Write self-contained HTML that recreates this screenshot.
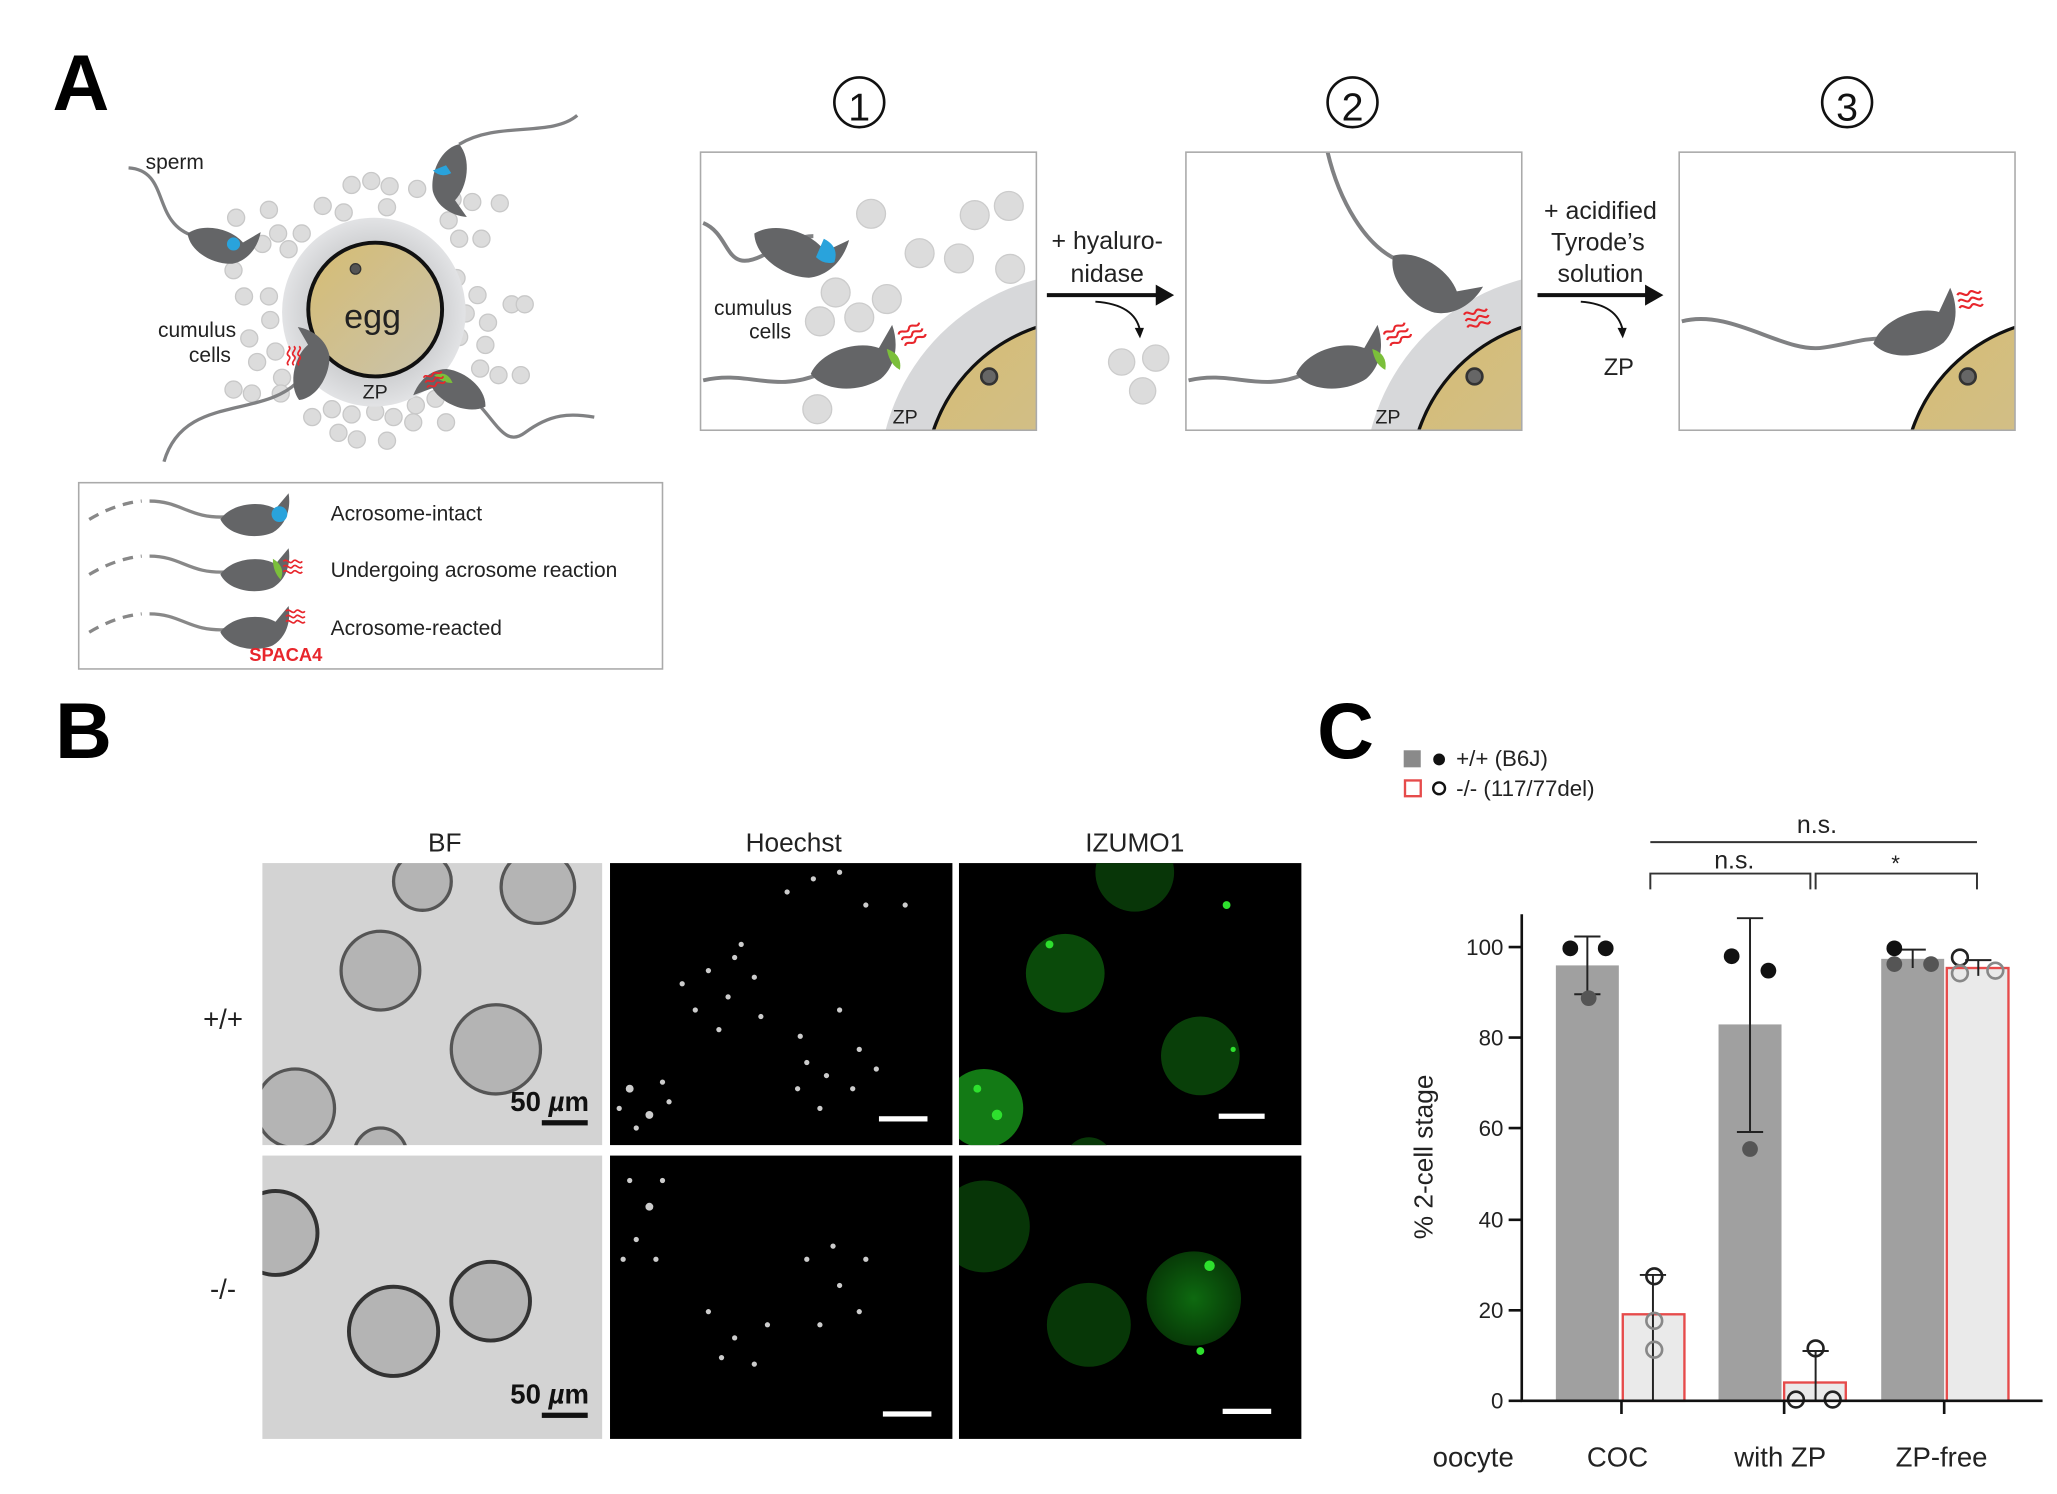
<!DOCTYPE html>
<html><head><meta charset="utf-8"><style>
html,body{margin:0;padding:0;background:#fff}
svg{display:block}
text{font-family:"Liberation Sans",sans-serif}
</style></head><body>
<svg width="2057" height="1494" viewBox="0 0 1568 1139" preserveAspectRatio="none" xmlns="http://www.w3.org/2000/svg">
<defs>
<linearGradient id="eg" x1="0" y1="0" x2="1" y2="1"><stop offset="0" stop-color="#d6bc72"/><stop offset="1" stop-color="#c9c3ad"/></linearGradient>
<radialGradient id="zp" cx="0.5" cy="0.5" r="0.5"><stop offset="0.6" stop-color="#c8c9cb"/><stop offset="1" stop-color="#e2e3e5"/></radialGradient>
<radialGradient id="gc" cx="0.5" cy="0.5" r="0.5"><stop offset="0" stop-color="#0e6a10"/><stop offset="1" stop-color="#073a07"/></radialGradient>
<path id="head" d="M0,0 C8,-12 30,-15 42,-8 L52,-20 C54,-8 50,4 40,10 C26,16 6,12 0,0 Z" fill="#646567"/>
<path id="wave" d="M0,0 c3,-4 6,4 9,0 c3,-4 6,4 9,0 M0,5 c3,-4 6,4 9,0 c3,-4 6,4 9,0 M0,10 c3,-4 6,4 9,0 c3,-4 6,4 9,0" fill="none" stroke="#e8262c" stroke-width="1.6"/>
<clipPath id="g1"><rect x="731" y="658" width="261" height="215"/></clipPath>
<clipPath id="g2"><rect x="731" y="881" width="261" height="216"/></clipPath>
</defs>

<!-- Panel A -->
<text x="40" y="84" font-size="60" font-weight="bold">A</text>
<g fill="#dcdcdc" stroke="#c8c8c8">
<circle cx="268" cy="141" r="6.5"/><circle cx="283" cy="138" r="6.5"/><circle cx="297" cy="142" r="6.5"/><circle cx="318" cy="144" r="6.5"/><circle cx="246" cy="157" r="6.5"/><circle cx="262" cy="162" r="6.5"/><circle cx="295" cy="158" r="6.5"/>
<circle cx="345" cy="152" r="6.5"/><circle cx="360" cy="154" r="6.5"/><circle cx="381" cy="155" r="6.5"/><circle cx="342" cy="168" r="6.5"/><circle cx="350" cy="182" r="6.5"/><circle cx="367" cy="182" r="6.5"/>
<circle cx="205" cy="160" r="6.5"/><circle cx="180" cy="166" r="6.5"/><circle cx="212" cy="178" r="6.5"/><circle cx="200" cy="186" r="6.5"/><circle cx="220" cy="190" r="6.5"/><circle cx="230" cy="178" r="6.5"/>
<circle cx="178" cy="206" r="6.5"/><circle cx="186" cy="226" r="6.5"/><circle cx="205" cy="226" r="6.5"/><circle cx="190" cy="258" r="6.5"/><circle cx="206" cy="244" r="6.5"/><circle cx="196" cy="276" r="6.5"/><circle cx="210" cy="268" r="6.5"/><circle cx="215" cy="288" r="6.5"/>
<circle cx="178" cy="297" r="6.5"/><circle cx="192" cy="300" r="6.5"/><circle cx="214" cy="300" r="6.5"/>
<circle cx="348" cy="212" r="6.5"/><circle cx="364" cy="225" r="6.5"/><circle cx="390" cy="232" r="6.5"/><circle cx="355" cy="239" r="6.5"/><circle cx="372" cy="246" r="6.5"/><circle cx="350" cy="257" r="6.5"/><circle cx="370" cy="263" r="6.5"/><circle cx="366" cy="281" r="6.5"/><circle cx="380" cy="286" r="6.5"/><circle cx="397" cy="286" r="6.5"/><circle cx="400" cy="232" r="6.5"/>
<circle cx="238" cy="318" r="6.5"/><circle cx="253" cy="312" r="6.5"/><circle cx="268" cy="316" r="6.5"/><circle cx="286" cy="314" r="6.5"/><circle cx="300" cy="318" r="6.5"/><circle cx="317" cy="309" r="6.5"/><circle cx="332" cy="304" r="6.5"/><circle cx="340" cy="322" r="6.5"/><circle cx="258" cy="330" r="6.5"/><circle cx="272" cy="335" r="6.5"/><circle cx="295" cy="336" r="6.5"/><circle cx="315" cy="322" r="6.5"/>
</g>
<ellipse cx="285" cy="238" rx="70" ry="72" fill="url(#zp)"/>
<circle cx="286" cy="236" r="51" fill="url(#eg)" stroke="#111" stroke-width="3"/>
<circle cx="271" cy="205" r="4" fill="#555" stroke="#333"/>
<text x="284" y="250" font-size="26" text-anchor="middle" fill="#222">egg</text>
<text x="286" y="304" font-size="15" text-anchor="middle" fill="#222">ZP</text>
<text x="111" y="129" font-size="16" fill="#222">sperm</text>
<text x="180" y="257" font-size="16" text-anchor="end" fill="#222">cumulus</text>
<text x="176" y="276" font-size="16" text-anchor="end" fill="#222">cells</text>
<g fill="none" stroke="#808183" stroke-width="2.5">
<path d="M98,128 C130,130 115,170 148,180"/>
<path d="M440,88 C420,105 380,92 350,110"/>
<path d="M125,352 C140,300 200,320 228,290"/>
<path d="M340,290 C375,305 380,345 400,330 C420,315 435,315 453,318"/>
</g>
<g transform="translate(143,178) rotate(20)"><use href="#head"/></g>
<circle cx="178" cy="186" r="5" fill="#29a3dc"/>
<g transform="translate(350,110) rotate(105)"><use href="#head"/></g>
<path d="M330,130 q6,6 14,2 l-4,-6z" fill="#29a3dc"/>
<g transform="translate(228,305) rotate(-70)"><use href="#head"/></g>
<g transform="translate(228,264) rotate(90) scale(0.8)"><use href="#wave"/></g>
<g transform="translate(370,310) rotate(210)"><use href="#head"/></g>
<path d="M331,286 q10,-4 14,6 q-8,0 -14,-6z" fill="#7bbf3a"/>
<g transform="translate(323,288) rotate(-20) scale(0.8)"><use href="#wave"/></g>

<!-- legend -->
<rect x="60" y="368" width="445" height="142" fill="#fff" stroke="#aaa" stroke-width="1.2"/>
<g fill="none" stroke="#888" stroke-width="2.5">
<path d="M68,396 q20,-12 40,-14" stroke-dasharray="8,6"/><path d="M114,382 c25,0 30,14 60,12"/>
<path d="M68,438 q20,-12 40,-14" stroke-dasharray="8,6"/><path d="M114,424 c25,0 30,14 60,12"/>
<path d="M68,482 q20,-12 40,-14" stroke-dasharray="8,6"/><path d="M114,468 c25,0 30,14 60,12"/>
</g>
<use href="#head" transform="translate(168,396)"/><circle cx="213" cy="392" r="6" fill="#29a3dc"/>
<use href="#head" transform="translate(168,438)"/><path d="M208,426 q10,6 6,16 q-6,-6 -6,-16z" fill="#7bbf3a"/><use href="#wave" transform="translate(216,428) scale(0.8)"/>
<use href="#head" transform="translate(168,482)"/><use href="#wave" transform="translate(218,466) scale(0.8)"/>
<text x="252" y="397" font-size="16" fill="#222">Acrosome-intact</text>
<text x="252" y="440" font-size="16" fill="#222">Undergoing acrosome reaction</text>
<text x="252" y="484" font-size="16" fill="#222">Acrosome-reacted</text>
<text x="190" y="504" font-size="14" font-weight="bold" fill="#e8262c">SPACA4</text>

<!-- numbered boxes -->
<g text-anchor="middle" fill="#111">
<circle cx="655" cy="78" r="19" fill="none" stroke="#111" stroke-width="2"/><text x="655" y="92" font-size="30">1</text>
<circle cx="1031" cy="78" r="19" fill="none" stroke="#111" stroke-width="2"/><text x="1031" y="92" font-size="30">2</text>
<circle cx="1408" cy="78" r="19" fill="none" stroke="#111" stroke-width="2"/><text x="1408" y="92" font-size="30">3</text>
</g>
<clipPath id="b1"><rect x="534" y="116" width="256" height="212"/></clipPath>
<clipPath id="b2"><rect x="904" y="116" width="256" height="212"/></clipPath>
<clipPath id="b3"><rect x="1280" y="116" width="256" height="212"/></clipPath>
<g clip-path="url(#b1)">
<circle cx="830" cy="368" r="160" fill="#d7d8da"/>
<circle cx="830" cy="368" r="125" fill="url(#eg)" stroke="#111" stroke-width="2.5"/>
<circle cx="754" cy="287" r="6" fill="#666" stroke="#333" stroke-width="2"/>
<g fill="#dcdcdc" stroke="#ccc"><circle cx="664" cy="163" r="11"/><circle cx="743" cy="164" r="11"/><circle cx="769" cy="157" r="11"/><circle cx="701" cy="193" r="11"/><circle cx="731" cy="197" r="11"/><circle cx="770" cy="205" r="11"/><circle cx="637" cy="223" r="11"/><circle cx="676" cy="228" r="11"/><circle cx="625" cy="245" r="11"/><circle cx="655" cy="242" r="11"/><circle cx="623" cy="312" r="11"/></g>
<path d="M536,170 C560,180 550,215 590,190 C600,185 610,180 620,180" fill="none" stroke="#808183" stroke-width="3"/>
<g transform="translate(575,178) rotate(25) scale(1.3)"><use href="#head"/></g>
<path d="M628,182 q12,6 8,18 q-8,2 -14,-4z" fill="#29a3dc"/>
<path d="M536,290 C570,282 590,300 625,285" fill="none" stroke="#808183" stroke-width="3"/>
<g transform="translate(618,285) rotate(-10) scale(1.3)"><use href="#head"/></g>
<path d="M676,266 q12,4 10,16 q-8,-4 -10,-16z" fill="#7bbf3a"/><use href="#wave" transform="translate(685,255) rotate(-30)"/>
<text x="690" y="323" font-size="15" text-anchor="middle" fill="#222">ZP</text>
</g>
<rect x="534" y="116" width="256" height="212" fill="none" stroke="#aaa" stroke-width="1.2"/>
<text x="574" y="240" font-size="16" text-anchor="middle" fill="#222">cumulus</text>
<text x="587" y="258" font-size="16" text-anchor="middle" fill="#222">cells</text>

<g clip-path="url(#b2)">
<circle cx="1200" cy="368" r="160" fill="#d7d8da"/>
<circle cx="1200" cy="368" r="125" fill="url(#eg)" stroke="#111" stroke-width="2.5"/>
<circle cx="1124" cy="287" r="6" fill="#666" stroke="#333" stroke-width="2"/>
<path d="M1012,116 C1020,150 1040,190 1070,200 C1085,205 1090,210 1100,215" fill="none" stroke="#808183" stroke-width="3"/>
<g transform="translate(1062,195) rotate(40) scale(1.3)"><use href="#head"/></g>
<use href="#wave" transform="translate(1116,240) rotate(-15)"/>
<path d="M906,290 C940,282 960,300 995,285" fill="none" stroke="#808183" stroke-width="3"/>
<g transform="translate(988,285) rotate(-10) scale(1.3)"><use href="#head"/></g>
<path d="M1046,266 q12,4 10,16 q-8,-4 -10,-16z" fill="#7bbf3a"/><use href="#wave" transform="translate(1055,255) rotate(-30)"/>
<text x="1058" y="323" font-size="15" text-anchor="middle" fill="#222">ZP</text>
</g>
<rect x="904" y="116" width="256" height="212" fill="none" stroke="#aaa" stroke-width="1.2"/>

<g clip-path="url(#b3)">
<circle cx="1576" cy="368" r="125" fill="url(#eg)" stroke="#111" stroke-width="2.5"/>
<circle cx="1500" cy="287" r="6" fill="#666" stroke="#333" stroke-width="2"/>
<path d="M1282,245 C1320,235 1360,270 1390,265 C1410,262 1420,258 1435,258" fill="none" stroke="#808183" stroke-width="3"/>
<g transform="translate(1428,262) rotate(-15) scale(1.3)"><use href="#head"/></g>
<use href="#wave" transform="translate(1492,225) rotate(-10)"/>
</g>
<rect x="1280" y="116" width="256" height="212" fill="none" stroke="#aaa" stroke-width="1.2"/>

<text x="844" y="190" font-size="19" text-anchor="middle" fill="#222">+ hyaluro-</text>
<text x="844" y="215" font-size="19" text-anchor="middle" fill="#222">nidase</text>
<path d="M798,225 H885" stroke="#111" stroke-width="3"/><path d="M895,225 l-14,-8 v16z" fill="#111"/>
<path d="M835,230 q30,2 34,22" fill="none" stroke="#111" stroke-width="1.5"/><path d="M869,258 l-4,-8 h7z" fill="#111"/>
<g fill="#dcdcdc" stroke="#ccc"><circle cx="855" cy="276" r="10"/><circle cx="881" cy="273" r="10"/><circle cx="871" cy="298" r="10"/></g>
<text x="1220" y="167" font-size="19" text-anchor="middle" fill="#222">+ acidified</text>
<text x="1218" y="191" font-size="19" text-anchor="middle" fill="#222">Tyrode’s</text>
<text x="1220" y="215" font-size="19" text-anchor="middle" fill="#222">solution</text>
<path d="M1172,225 H1258" stroke="#111" stroke-width="3"/><path d="M1268,225 l-14,-8 v16z" fill="#111"/>
<path d="M1205,230 q28,2 32,22" fill="none" stroke="#111" stroke-width="1.5"/><path d="M1237,258 l-4,-8 h7z" fill="#111"/>
<text x="1234" y="286" font-size="18" text-anchor="middle" fill="#222">ZP</text>

<!-- Panel B -->
<text x="42" y="578" font-size="60" font-weight="bold">B</text>
<text x="339" y="649" font-size="20" text-anchor="middle" fill="#222">BF</text>
<text x="605" y="649" font-size="20" text-anchor="middle" fill="#222">Hoechst</text>
<text x="865" y="649" font-size="20" text-anchor="middle" fill="#222">IZUMO1</text>
<text x="170" y="784" font-size="21" text-anchor="middle" fill="#222">+/+</text>
<text x="170" y="990" font-size="21" text-anchor="middle" fill="#222">-/-</text>
<clipPath id="c1"><rect x="200" y="658" width="259" height="215"/></clipPath>
<clipPath id="c2"><rect x="200" y="881" width="259" height="216"/></clipPath>
<rect x="200" y="658" width="259" height="215" fill="#d3d3d3"/>
<g clip-path="url(#c1)" fill="#b4b4b4" stroke="#555" stroke-width="2.5">
<circle cx="290" cy="740" r="30"/><circle cx="378" cy="800" r="34"/><circle cx="410" cy="676" r="28"/><circle cx="322" cy="672" r="22"/><circle cx="225" cy="845" r="30"/><circle cx="290" cy="880" r="20"/>
</g>
<rect x="200" y="881" width="259" height="216" fill="#d3d3d3"/>
<g clip-path="url(#c2)" fill="#b4b4b4" stroke="#333" stroke-width="3">
<circle cx="300" cy="1015" r="34"/><circle cx="374" cy="992" r="30"/><circle cx="210" cy="940" r="32"/>
</g>
<text x="389" y="847" font-size="21" font-weight="bold" fill="#111">50 <tspan font-style="italic">µ</tspan>m</text>
<rect x="413" y="854" width="35" height="4" fill="#111"/>
<text x="389" y="1070" font-size="21" font-weight="bold" fill="#111">50 <tspan font-style="italic">µ</tspan>m</text>
<rect x="413" y="1077" width="35" height="4" fill="#111"/>
<rect x="465" y="658" width="261" height="215" fill="#000"/>
<rect x="465" y="881" width="261" height="216" fill="#000"/>
<rect x="731" y="658" width="261" height="215" fill="#000"/>
<rect x="731" y="881" width="261" height="216" fill="#000"/>
<g fill="#ccc">
<circle cx="540" cy="740" r="2"/><circle cx="555" cy="760" r="2"/><circle cx="530" cy="770" r="2"/><circle cx="575" cy="745" r="2"/><circle cx="560" cy="730" r="2"/><circle cx="580" cy="775" r="2"/><circle cx="520" cy="750" r="2"/><circle cx="548" cy="785" r="2"/><circle cx="565" cy="720" r="2"/>
<circle cx="610" cy="790" r="2"/><circle cx="640" cy="770" r="2"/><circle cx="655" cy="800" r="2"/><circle cx="630" cy="820" r="2"/><circle cx="615" cy="810" r="2"/><circle cx="650" cy="830" r="2"/><circle cx="608" cy="830" r="2"/><circle cx="668" cy="815" r="2"/><circle cx="625" cy="845" r="2"/>
<circle cx="480" cy="830" r="3"/><circle cx="495" cy="850" r="3"/><circle cx="505" cy="825" r="2"/><circle cx="485" cy="860" r="2"/><circle cx="472" cy="845" r="2"/><circle cx="510" cy="840" r="2"/>
<circle cx="600" cy="680" r="2"/><circle cx="620" cy="670" r="2"/><circle cx="660" cy="690" r="2"/><circle cx="640" cy="665" r="2"/><circle cx="690" cy="690" r="2"/>
<circle cx="480" cy="900" r="2"/><circle cx="495" cy="920" r="3"/><circle cx="485" cy="945" r="2"/><circle cx="500" cy="960" r="2"/><circle cx="475" cy="960" r="2"/><circle cx="505" cy="900" r="2"/>
<circle cx="540" cy="1000" r="2"/><circle cx="560" cy="1020" r="2"/><circle cx="575" cy="1040" r="2"/><circle cx="550" cy="1035" r="2"/><circle cx="585" cy="1010" r="2"/>
<circle cx="615" cy="960" r="2"/><circle cx="640" cy="980" r="2"/><circle cx="655" cy="1000" r="2"/><circle cx="625" cy="1010" r="2"/><circle cx="660" cy="960" r="2"/><circle cx="635" cy="950" r="2"/>
</g>
<rect x="670" y="851" width="37" height="4" fill="#fff"/>
<rect x="673" y="1076" width="37" height="4" fill="#fff"/>
<g clip-path="url(#g1)">
<circle cx="812" cy="742" r="30" fill="#0a4a0a"/><circle cx="915" cy="805" r="30" fill="#093f09"/><circle cx="750" cy="845" r="30" fill="#137a15"/><circle cx="865" cy="665" r="30" fill="#083608"/><circle cx="830" cy="885" r="18" fill="#083808"/>
<g fill="#2ee02e"><circle cx="800" cy="720" r="3"/><circle cx="760" cy="850" r="4"/><circle cx="745" cy="830" r="3"/><circle cx="935" cy="690" r="3"/><circle cx="940" cy="800" r="2"/></g>
</g>
<g clip-path="url(#g2)">
<circle cx="750" cy="935" r="35" fill="#073507"/><circle cx="830" cy="1010" r="32" fill="#073707"/><circle cx="910" cy="990" r="36" fill="url(#gc)"/>
<g fill="#2ee02e"><circle cx="922" cy="965" r="4"/><circle cx="915" cy="1030" r="3"/></g>
</g>
<rect x="929" y="849" width="35" height="4" fill="#fff"/>
<rect x="932" y="1074" width="37" height="4" fill="#fff"/>

<!-- Panel C -->
<text x="1004" y="578" font-size="60" font-weight="bold">C</text>
<rect x="1070" y="572" width="13" height="13" fill="#8a8a8a"/><circle cx="1097" cy="579" r="4.5" fill="#111"/>
<text x="1110" y="584" font-size="17" fill="#222">+/+ (B6J)</text>
<rect x="1071" y="595" width="12" height="12" fill="none" stroke="#e64b4b" stroke-width="1.8"/><circle cx="1097" cy="601" r="4.5" fill="none" stroke="#111" stroke-width="1.8"/>
<text x="1110" y="607" font-size="17" fill="#222">-/- (117/77del)</text>
<text x="1385" y="635" font-size="19" text-anchor="middle" fill="#222">n.s.</text>
<path d="M1258,642 H1507" stroke="#333" stroke-width="1.5"/>
<text x="1322" y="662" font-size="19" text-anchor="middle" fill="#222">n.s.</text>
<text x="1445" y="664" font-size="17" text-anchor="middle" fill="#222">*</text>
<path d="M1258,678 V666 H1380 V678 M1384,678 V666 H1507 V678" fill="none" stroke="#333" stroke-width="1.5"/>
<rect x="1186" y="736" width="48" height="332" fill="#a0a0a0"/>
<rect x="1237" y="1002" width="47" height="66" fill="#eaeaea" stroke="#e64b4b" stroke-width="1.8"/>
<rect x="1310" y="781" width="48" height="287" fill="#a0a0a0"/>
<rect x="1360" y="1054" width="47" height="14" fill="#eaeaea" stroke="#e64b4b" stroke-width="1.8"/>
<rect x="1434" y="731" width="48" height="337" fill="#a0a0a0"/>
<rect x="1484" y="738" width="47" height="330" fill="#eaeaea" stroke="#e64b4b" stroke-width="1.8"/>
<g stroke="#222" stroke-width="1.5" fill="none">
<path d="M1210,714 V758 M1200,714 H1220 M1200,758 H1220"/>
<path d="M1260,972 V1068 M1250,972 H1270"/>
<path d="M1334,700 V863 M1324,700 H1344 M1324,863 H1344"/>
<path d="M1384,1030 V1068 M1374,1030 H1394"/>
<path d="M1458,724 V738 M1448,724 H1468"/>
<path d="M1508,732 V744 M1498,732 H1518"/>
</g>
<g fill="#111"><circle cx="1197" cy="723" r="6"/><circle cx="1224" cy="723" r="6"/><circle cx="1211" cy="761" r="6" fill="#555"/>
<circle cx="1320" cy="729" r="6"/><circle cx="1348" cy="740" r="6"/><circle cx="1334" cy="876" r="6" fill="#555"/>
<circle cx="1444" cy="723" r="6"/><circle cx="1444" cy="735" r="6" fill="#555"/><circle cx="1472" cy="735" r="6" fill="#555"/></g>
<g fill="none" stroke-width="2"><circle cx="1261" cy="973" r="6" stroke="#222"/><circle cx="1261" cy="1007" r="6" stroke="#888"/><circle cx="1261" cy="1029" r="6" stroke="#888"/>
<circle cx="1384" cy="1028" r="6" stroke="#222"/><circle cx="1369" cy="1067" r="6" stroke="#222"/><circle cx="1397" cy="1067" r="6" stroke="#222"/>
<circle cx="1494" cy="730" r="6" stroke="#222"/><circle cx="1494" cy="742" r="6" stroke="#888"/><circle cx="1521" cy="740" r="6" stroke="#888"/></g>
<path d="M1160,697 V1068 H1557" fill="none" stroke="#111" stroke-width="2"/>
<g stroke="#111" stroke-width="2"><path d="M1150,722 H1160 M1150,791 H1160 M1150,860 H1160 M1150,930 H1160 M1150,999 H1160 M1150,1068 H1160 M1236,1068 V1078 M1360,1068 V1078 M1482,1068 V1078"/></g>
<g font-size="17" text-anchor="end" fill="#222"><text x="1146" y="728">100</text><text x="1146" y="797">80</text><text x="1146" y="866">60</text><text x="1146" y="936">40</text><text x="1146" y="1005">20</text><text x="1146" y="1074">0</text></g>
<text transform="translate(1092,882) rotate(-90)" font-size="20" text-anchor="middle" fill="#222">% 2-cell stage</text>
<g font-size="21" text-anchor="middle" fill="#222"><text x="1123" y="1118">oocyte</text><text x="1233" y="1118">COC</text><text x="1357" y="1118">with ZP</text><text x="1480" y="1118">ZP-free</text></g>
</svg>
</body></html>
